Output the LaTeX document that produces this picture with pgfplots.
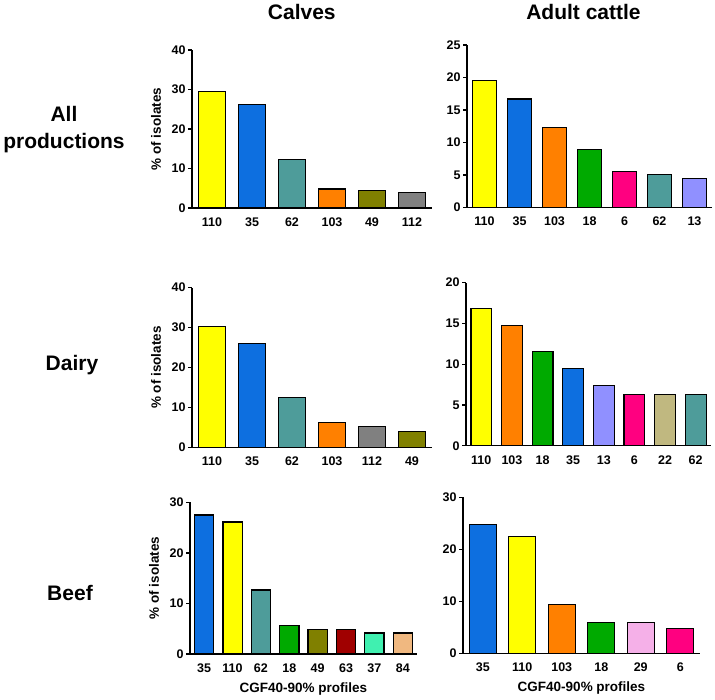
\documentclass[border=0pt]{standalone}
\usepackage{pgfplots}
\pgfplotsset{compat=1.18}
\usepackage{fontspec}
\setmainfont{Liberation Sans}
\definecolor{cyel}{HTML}{FFFF00}
\definecolor{cblu}{HTML}{0D6FE0}
\definecolor{ctea}{HTML}{4E9C9A}
\definecolor{cora}{HTML}{FF8000}
\definecolor{coli}{HTML}{808000}
\definecolor{cgra}{HTML}{808080}
\definecolor{cgre}{HTML}{00AA00}
\definecolor{cmag}{HTML}{FF0080}
\definecolor{clav}{HTML}{9090FF}
\definecolor{ckha}{HTML}{C0B880}
\definecolor{cdre}{HTML}{A00000}
\definecolor{caqu}{HTML}{40F0B0}
\definecolor{cpea}{HTML}{F0B880}
\definecolor{cpin}{HTML}{F5B0E8}
\newcommand{\cbar}[3]{\addplot[ybar,bar width=0.68,fill=#3,draw=black,line width=1.2pt] coordinates {(#1,#2)};}
\pgfplotsset{
  panel/.style={
    scale only axis, anchor=south west,
    axis lines=left, axis line style={-, line width=1.3pt},
    xmin=-0.5, ymin=0,
    tick align=outside, major tick length=4pt,
    ytick style={line width=1.3pt, black},
    xtick style={draw=none},
    /pgf/number format/assume math mode=true,
    ticklabel style={font=\bfseries\fontsize{12.5}{13}\selectfont},
    xticklabel style={yshift=-2pt},
    yticklabel style={xshift=1pt},
    clip=false,
  },
  ylab/.style={ylabel={\% of isolates},
    every axis y label/.style={at={([xshift=-36pt]axis description cs:0,0.5)}, rotate=90, anchor=center, font=\bfseries\fontsize{13.5}{14}\selectfont}},
  xlab/.style={xlabel={CGF40-90\% profiles},
    every axis x label/.style={at={([yshift=-35pt]axis description cs:0.5,0)}, anchor=center, font=\bfseries\fontsize{13.5}{14}\selectfont}},
}
\begin{document}
\begin{tikzpicture}[x=1pt,y=1pt]
\useasboundingbox (0,0) rectangle (715,700);
\tikzset{big/.style={font=\bfseries\fontsize{21}{27}\selectfont, align=center}}
\node[big] at (301.8,688) {Calves};
\node[big] at (583.5,688) {Adult cattle};
\node[big] at (64,570) {All\\productions};
\node[big] at (72,335) {Dairy};
\node[big] at (70,107) {Beef};

% Panel 1: Calves, All productions
\begin{axis}[panel, ylab, at={(192pt,492pt)}, width=240pt, height=158pt, xmax=5.5, ymax=40, ytick={0,10,20,30,40},
  xtick={0,...,5}, xticklabels={110,35,62,103,49,112}]
\cbar{0}{29.4}{cyel}
\cbar{1}{26.3}{cblu}
\cbar{2}{12.3}{ctea}
\cbar{3}{4.8}{cora}
\cbar{4}{4.5}{coli}
\cbar{5}{4.0}{cgra}
\end{axis}

% Panel 2: Adult cattle, All productions
\begin{axis}[panel, at={(467pt,492.3pt)}, width=245pt, height=162.7pt, xmax=6.5, ymax=25, ytick={0,5,10,15,20,25},
  xtick={0,...,6}, xticklabels={110,35,103,18,6,62,13}]
\cbar{0}{19.5}{cyel}
\cbar{1}{16.7}{cblu}
\cbar{2}{12.3}{cora}
\cbar{3}{9.0}{cgre}
\cbar{4}{5.6}{cmag}
\cbar{5}{5.1}{ctea}
\cbar{6}{4.45}{clav}
\end{axis}

% Panel 3: Calves, Dairy
\begin{axis}[panel, ylab, at={(192pt,252.7pt)}, width=240pt, height=159.6pt, xmax=5.5, ymax=40, ytick={0,10,20,30,40},
  xtick={0,...,5}, xticklabels={110,35,62,103,112,49}]
\cbar{0}{30.3}{cyel}
\cbar{1}{26.0}{cblu}
\cbar{2}{12.4}{ctea}
\cbar{3}{6.25}{cora}
\cbar{4}{5.15}{cgra}
\cbar{5}{4.0}{coli}
\end{axis}

% Panel 4: Adult cattle, Dairy
\begin{axis}[panel, at={(466pt,254.2pt)}, width=245pt, height=163.2pt, xmax=7.5, ymax=20, ytick={0,5,10,15,20},
  xtick={0,...,7}, xticklabels={110,103,18,35,13,6,22,62}]
\cbar{0}{16.8}{cyel}
\cbar{1}{14.7}{cora}
\cbar{2}{11.6}{cgre}
\cbar{3}{9.5}{cblu}
\cbar{4}{7.4}{clav}
\cbar{5}{6.3}{cmag}
\cbar{6}{6.3}{ckha}
\cbar{7}{6.3}{ctea}
\end{axis}

% Panel 5: Calves, Beef
\begin{axis}[panel, ylab, xlab, at={(190pt,46pt)}, width=227pt, height=151.7pt, xmax=7.5, ymax=30, ytick={0,10,20,30},
  xtick={0,...,7}, xticklabels={35,110,62,18,49,63,37,84}]
\cbar{0}{27.5}{cblu}
\cbar{1}{26.1}{cyel}
\cbar{2}{12.65}{ctea}
\cbar{3}{5.6}{cgre}
\cbar{4}{4.9}{coli}
\cbar{5}{4.9}{cdre}
\cbar{6}{4.15}{caqu}
\cbar{7}{4.15}{cpea}
\end{axis}

% Panel 6: Adult cattle, Beef
\begin{axis}[panel, xlab, at={(463pt,46.7pt)}, width=237pt, height=156pt, xmax=5.5, ymax=30, ytick={0,10,20,30},
  xtick={0,...,5}, xticklabels={35,110,103,18,29,6}]
\cbar{0}{24.8}{cblu}
\cbar{1}{22.4}{cyel}
\cbar{2}{9.4}{cora}
\cbar{3}{5.96}{cgre}
\cbar{4}{5.96}{cpin}
\cbar{5}{4.7}{cmag}
\end{axis}
\end{tikzpicture}
\end{document}
